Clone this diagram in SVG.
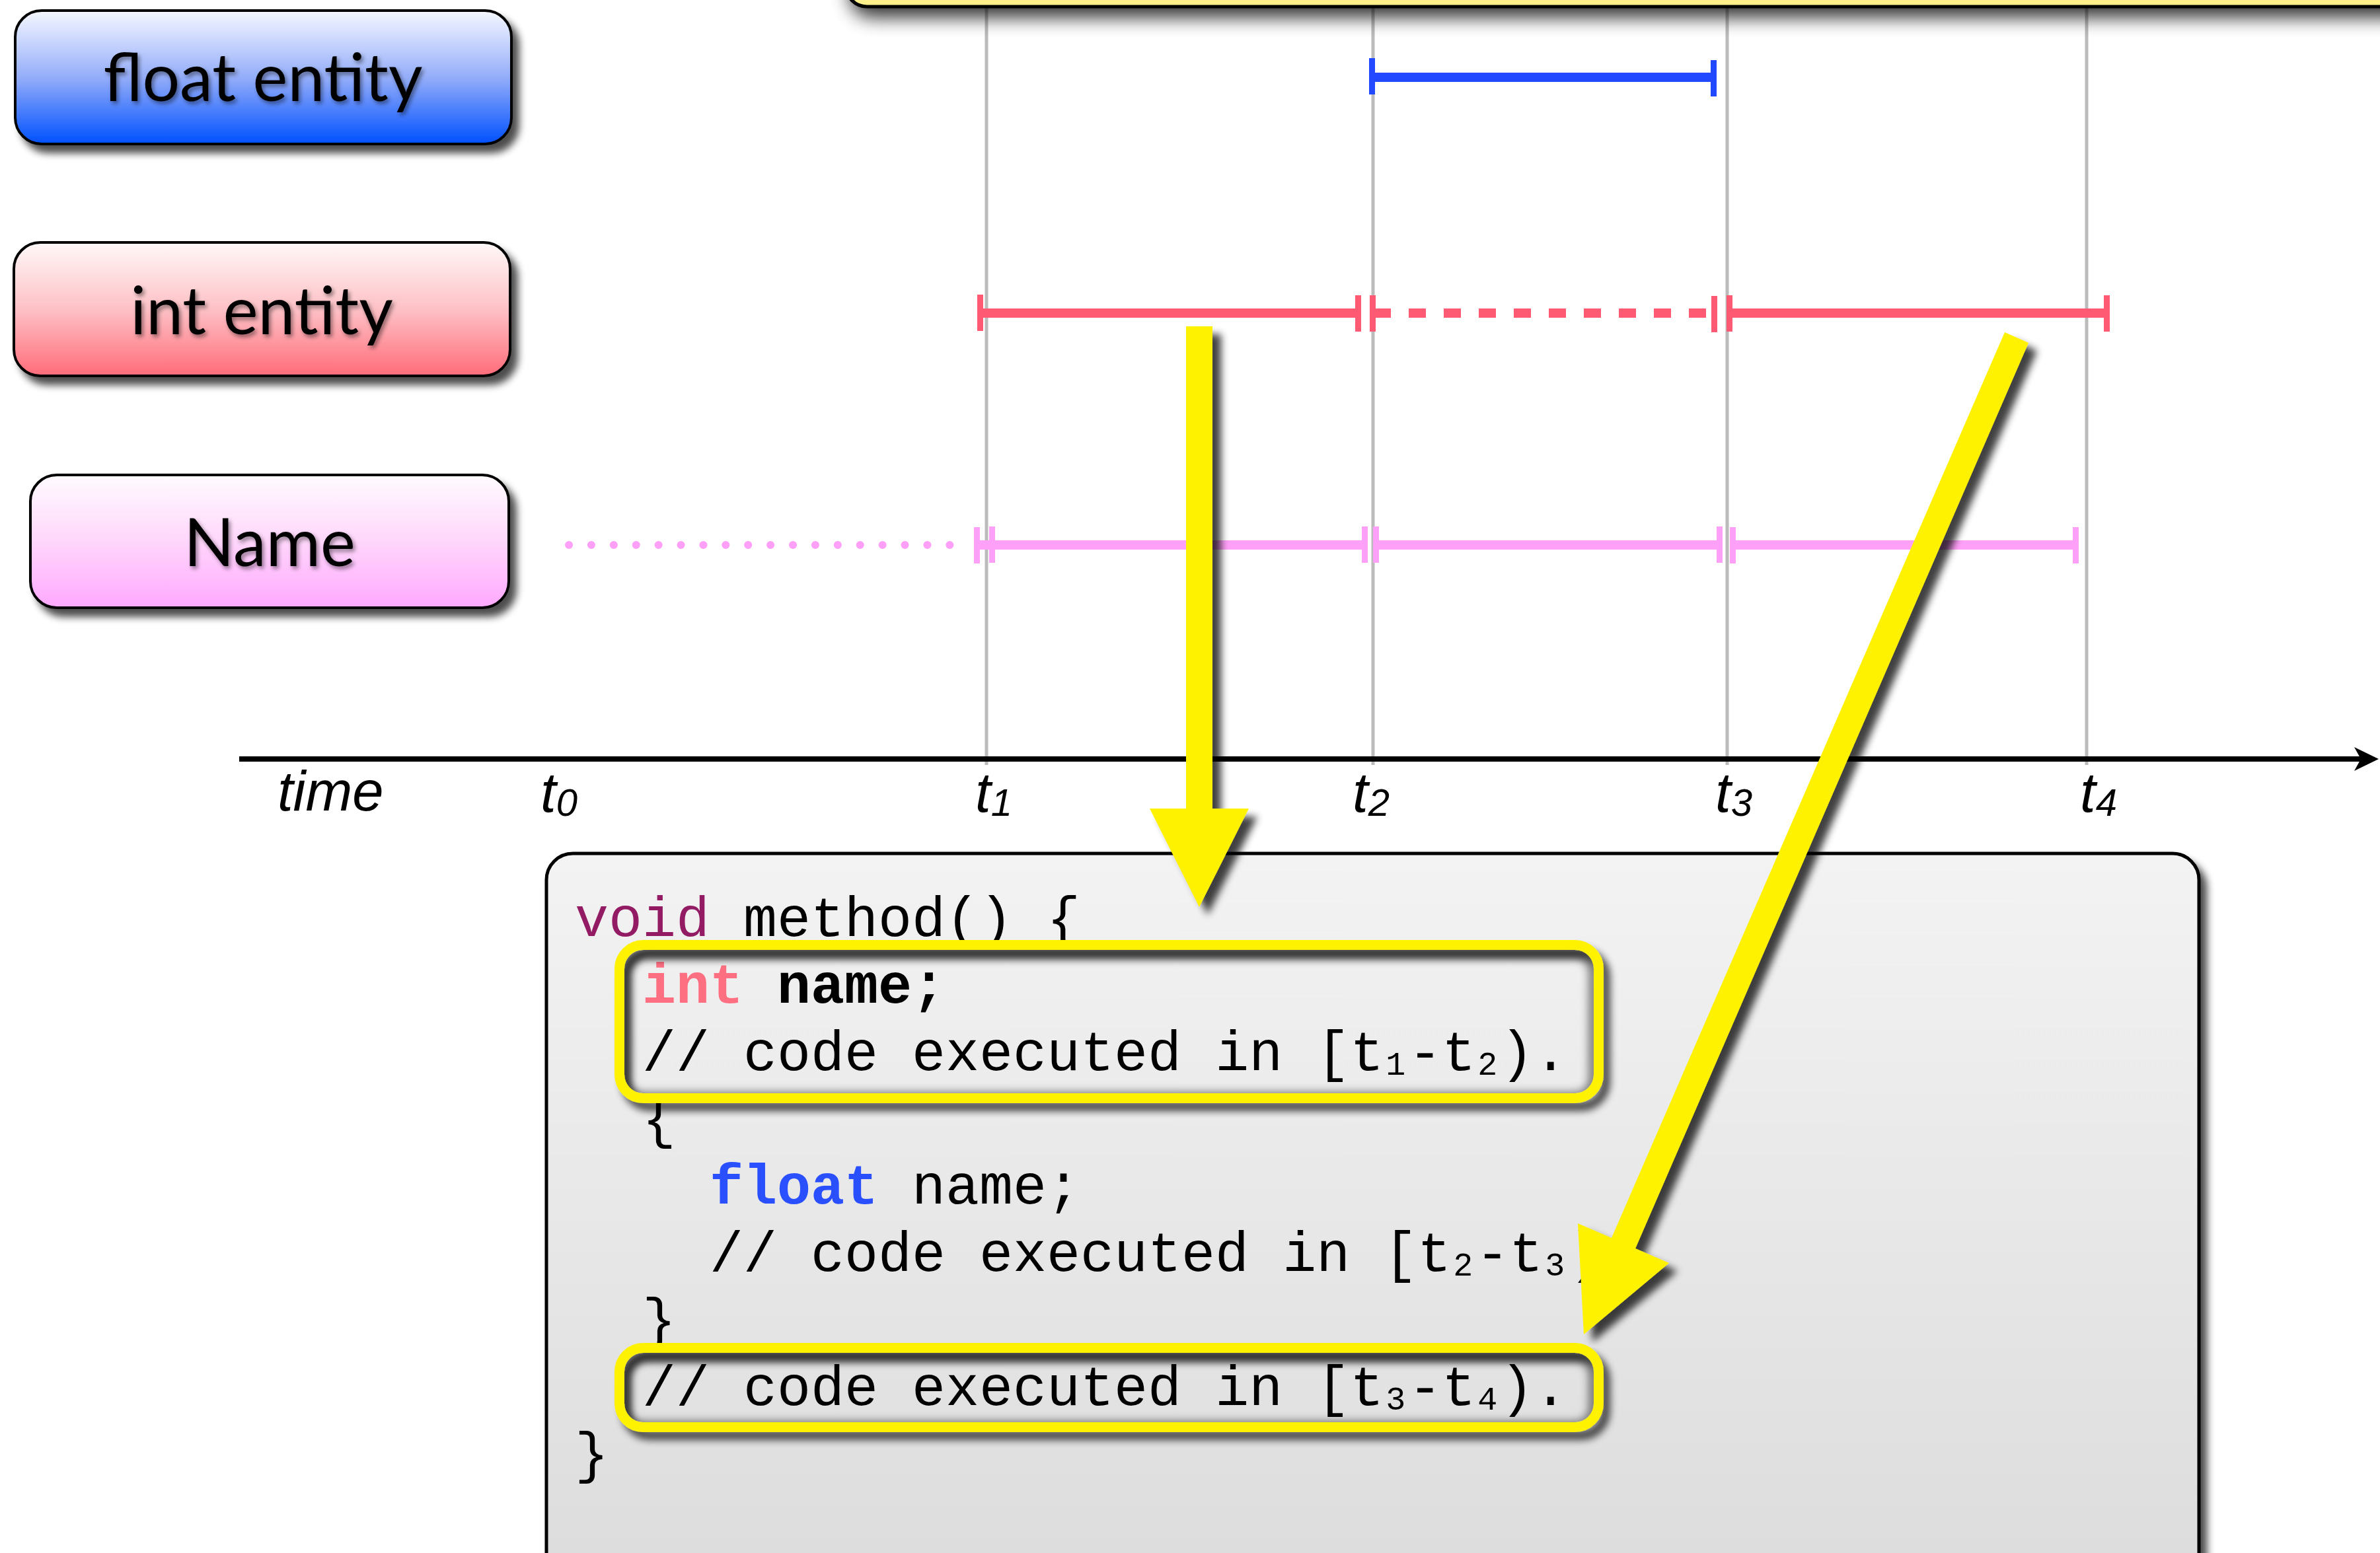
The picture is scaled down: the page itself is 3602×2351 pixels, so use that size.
<svg xmlns="http://www.w3.org/2000/svg" width="3602" height="2351" viewBox="0 0 3602 2351">
  <style>
    .node-box { stroke: #000; stroke-width: 4; }
    .node-label { font-family: Lato, "Open Sans", sans-serif; font-size: 100px; fill: #000; text-anchor: middle; }
    .grid { stroke: #bbbbbb; stroke-width: 5; }
    .tlabel { font-family: "Liberation Sans", Arial, sans-serif; font-style: italic; font-size: 85px; fill: #000; }
    .code { font-family: "Liberation Mono", "Courier New", monospace; font-size: 85px; fill: #000; white-space: pre; }
    .kw-void { fill: #931b63; }
    .kw-int { fill: #ff6f82; font-weight: bold; }
    .kw-float { fill: #2a4fff; font-weight: bold; }
    .bold { font-weight: bold; }
    .hl { fill: none; stroke: #fff200; stroke-width: 15; }
    .arrow { fill: #fff200; }
    .blue { fill: #2249ff; }
    .red { fill: #ff5a73; }
    .pink { fill: #ffa0f8; }
  </style>
  <defs>
    <linearGradient id="gFloat" x1="0" y1="0" x2="0" y2="1">
      <stop offset="0" stop-color="#f6f8ff"/>
      <stop offset="0.5" stop-color="#94adf9"/>
      <stop offset="1" stop-color="#0050ff"/>
    </linearGradient>
    <linearGradient id="gInt" x1="0" y1="0" x2="0" y2="1">
      <stop offset="0" stop-color="#fff8f8"/>
      <stop offset="0.5" stop-color="#fdc1c6"/>
      <stop offset="1" stop-color="#ff6c79"/>
    </linearGradient>
    <linearGradient id="gName" x1="0" y1="0" x2="0" y2="1">
      <stop offset="0" stop-color="#fffcff"/>
      <stop offset="0.5" stop-color="#ffd6fb"/>
      <stop offset="1" stop-color="#ffa8ff"/>
    </linearGradient>
    <linearGradient id="gCode" gradientUnits="userSpaceOnUse" x1="0" y1="1292" x2="0" y2="2351">
      <stop offset="0" stop-color="#f3f3f3"/>
      <stop offset="1" stop-color="#dddddd"/>
    </linearGradient>
    <filter id="ds" x="-10%" y="-10%" width="130%" height="140%">
      <feGaussianBlur in="SourceAlpha" stdDeviation="6"/>
      <feOffset dx="10" dy="12" result="o"/>
      <feComponentTransfer><feFuncA type="linear" slope="0.7"/></feComponentTransfer>
      <feMerge><feMergeNode/><feMergeNode in="SourceGraphic"/></feMerge>
    </filter>
    <filter id="dsArrow" x="-30%" y="-10%" width="160%" height="130%">
      <feGaussianBlur in="SourceAlpha" stdDeviation="6"/>
      <feOffset dx="13" dy="12"/>
      <feComponentTransfer><feFuncA type="linear" slope="0.75"/></feComponentTransfer>
      <feMerge><feMergeNode/><feMergeNode in="SourceGraphic"/></feMerge>
    </filter>
    <filter id="dsTop" x="-5%" y="-50%" width="110%" height="300%">
      <feGaussianBlur in="SourceAlpha" stdDeviation="14"/>
      <feOffset dx="8" dy="14"/>
      <feComponentTransfer><feFuncA type="linear" slope="0.8"/></feComponentTransfer>
      <feMerge><feMergeNode/><feMergeNode in="SourceGraphic"/></feMerge>
    </filter>
    <filter id="txtShadow" x="-10%" y="-20%" width="120%" height="150%">
      <feGaussianBlur in="SourceAlpha" stdDeviation="3"/>
      <feOffset dx="3" dy="4"/>
      <feComponentTransfer><feFuncA type="linear" slope="0.45"/></feComponentTransfer>
      <feMerge><feMergeNode/><feMergeNode in="SourceGraphic"/></feMerge>
    </filter>
    <filter id="blurInset" x="-10%" y="-30%" width="120%" height="160%">
      <feGaussianBlur stdDeviation="7"/>
    </filter>
    <clipPath id="clipHl1"><rect x="945" y="1438" width="1467" height="217" rx="28"/></clipPath>
    <clipPath id="clipHl2"><rect x="945" y="2048" width="1467" height="105" rx="28"/></clipPath>
  </defs>

  <rect width="3602" height="2351" fill="#ffffff"/>

  <!-- time grid -->
  <g id="grid">
    <line class="grid" x1="1493" y1="0" x2="1493" y2="1158"/>
    <line class="grid" x1="2078" y1="0" x2="2078" y2="1158"/>
    <line class="grid" x1="2614" y1="0" x2="2614" y2="1158"/>
    <line class="grid" x1="3158" y1="0" x2="3158" y2="1158"/>
  </g>

  <!-- note panel across the top edge -->
  <g id="top-note">
    <rect x="1280" y="-80" width="2420" height="90" rx="32" fill="#fff08c" stroke="#000" stroke-width="5" filter="url(#dsTop)"/>
  </g>

  <!-- entity nodes -->
  <g id="node-float" filter="url(#ds)">
    <rect class="node-box" x="23" y="16" width="751" height="202" rx="40" fill="url(#gFloat)"/>
    <text class="node-label" x="398" y="153" filter="url(#txtShadow)">float entity</text>
  </g>
  <g id="node-int" filter="url(#ds)">
    <rect class="node-box" x="21" y="367" width="751" height="202" rx="40" fill="url(#gInt)"/>
    <text class="node-label" x="396" y="506" filter="url(#txtShadow)">int entity</text>
  </g>
  <g id="node-name" filter="url(#ds)">
    <rect class="node-box" x="46" y="719" width="724" height="201" rx="40" fill="url(#gName)"/>
    <text class="node-label" x="408" y="857" filter="url(#txtShadow)">Name</text>
  </g>

  <!-- lifetimes -->
  <g id="lifetime-float">
    <rect class="blue" x="2077" y="110" width="516" height="14"/>
    <rect class="blue" x="2072" y="88" width="9" height="55"/>
    <rect class="blue" x="2589" y="91" width="9" height="55"/>
  </g>
  <g id="lifetime-int">
    <rect class="red" x="1483" y="467" width="572" height="14"/>
    <rect class="red" x="1479" y="446" width="9" height="55"/>
    <rect class="red" x="2051" y="447" width="9" height="55"/>
    <line x1="2079" y1="474" x2="2592" y2="474" stroke="#ff5a73" stroke-width="14" stroke-dasharray="26 27"/>
    <rect class="red" x="2073" y="447" width="9" height="55"/>
    <rect class="red" x="2590" y="448" width="9" height="55"/>
    <rect class="red" x="2618" y="467" width="570" height="14"/>
    <rect class="red" x="2613" y="447" width="9" height="55"/>
    <rect class="red" x="3184" y="447" width="9" height="55"/>
  </g>
  <g id="lifetime-name">
    <line x1="861" y1="825" x2="1466" y2="825" stroke="#ffa0f8" stroke-width="12" stroke-linecap="round" stroke-dasharray="0.1 33.8"/>
    <rect class="pink" x="1483" y="818" width="580" height="14"/>
    <rect class="pink" x="1474" y="798" width="9" height="55"/>
    <rect class="pink" x="1497" y="797" width="9" height="55"/>
    <rect class="pink" x="2083" y="818" width="521" height="14"/>
    <rect class="pink" x="2061" y="797" width="9" height="55"/>
    <rect class="pink" x="2078" y="797" width="9" height="55"/>
    <rect class="pink" x="2627" y="818" width="514" height="14"/>
    <rect class="pink" x="2598" y="797" width="9" height="55"/>
    <rect class="pink" x="2618" y="798" width="9" height="55"/>
    <rect class="pink" x="3137" y="798" width="9" height="55"/>
  </g>

  <!-- time axis -->
  <g id="time-axis">
    <line x1="362" y1="1149" x2="3575" y2="1149" stroke="#000" stroke-width="8"/>
    <polygon points="3600,1149 3563,1131 3573,1149 3563,1167" fill="#000"/>
    <text class="tlabel" x="420" y="1227">time</text>
    <text class="tlabel" x="818" y="1229">t<tspan font-size="58" dy="6">0</tspan></text>
    <text class="tlabel" x="1476" y="1229">t<tspan font-size="58" dy="6">1</tspan></text>
    <text class="tlabel" x="2047" y="1229">t<tspan font-size="58" dy="6">2</tspan></text>
    <text class="tlabel" x="2596" y="1229">t<tspan font-size="58" dy="6">3</tspan></text>
    <text class="tlabel" x="3148" y="1229">t<tspan font-size="58" dy="6">4</tspan></text>
  </g>

  <!-- code panel -->
  <g id="code-panel">
    <rect x="827" y="1292" width="2501" height="1200" rx="40" fill="url(#gCode)" stroke="#000" stroke-width="5" filter="url(#ds)"/>
    <text class="code" x="870" y="1417"><tspan class="kw-void">void</tspan> method() {</text>
    <text class="code" x="972" y="1518"><tspan class="kw-int">int</tspan> <tspan class="bold">name;</tspan></text>
    <text class="code" x="972" y="1620">// code executed in [t<tspan font-size="50" dx="3" dy="7">1</tspan><tspan dx="4" dy="-7">-t</tspan><tspan font-size="50" dx="3" dy="7">2</tspan><tspan dx="4" dy="-7">).</tspan></text>
    <text class="code" x="972" y="1721">{</text>
    <text class="code" x="1074" y="1822"><tspan class="kw-float">float</tspan> name;</text>
    <text class="code" x="1074" y="1924">// code executed in [t<tspan font-size="50" dx="3" dy="7">2</tspan><tspan dx="4" dy="-7">-t</tspan><tspan font-size="50" dx="3" dy="7">3</tspan><tspan dx="6" dy="-7">).</tspan></text>
    <text class="code" x="972" y="2025">}</text>
    <text class="code" x="972" y="2127">// code executed in [t<tspan font-size="50" dx="3" dy="7">3</tspan><tspan dx="4" dy="-7">-t</tspan><tspan font-size="50" dx="3" dy="7">4</tspan><tspan dx="4" dy="-7">).</tspan></text>
    <text class="code" x="870" y="2228">}</text>
  </g>

  <!-- highlight frames around the int scope -->
  <g id="highlight-t1-t2">
    <g clip-path="url(#clipHl1)">
      <rect x="945" y="1444" width="1467" height="217" rx="28" fill="none" stroke="#000" stroke-opacity="0.55" stroke-width="14" filter="url(#blurInset)"/>
    </g>
    <rect class="hl" x="937.5" y="1430.5" width="1482" height="232" rx="36" filter="url(#ds)"/>
  </g>
  <g id="highlight-t3-t4">
    <g clip-path="url(#clipHl2)">
      <rect x="945" y="2054" width="1467" height="105" rx="28" fill="none" stroke="#000" stroke-opacity="0.55" stroke-width="14" filter="url(#blurInset)"/>
    </g>
    <rect class="hl" x="937.5" y="2040.5" width="1482" height="120" rx="36" filter="url(#ds)"/>
  </g>

  <!-- connectors from the int lifetime to its code ranges -->
  <g id="connectors">
    <polygon class="arrow" filter="url(#dsArrow)" points="1795,494 1835,494 1835,1224 1890,1224 1815,1373 1740,1224 1795,1224"/>
    <polygon class="arrow" filter="url(#dsArrow)" points="3034,503 3070,519 2475,1890 2526,1912 2397,2020 2388,1852 2439,1874"/>
  </g>
</svg>
